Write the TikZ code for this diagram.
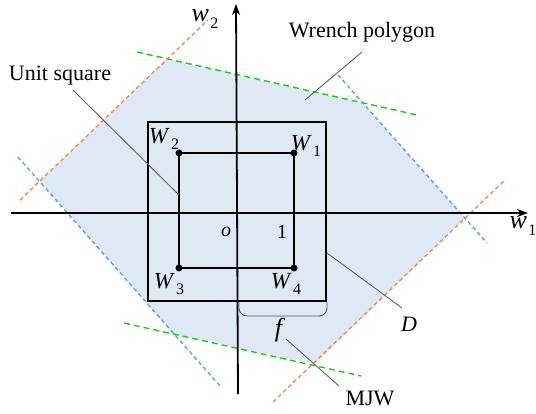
\documentclass[tikz,border=0pt]{standalone}
\usepackage{fontspec}
\setmainfont{Liberation Serif}
\usetikzlibrary{arrows.meta}
\definecolor{polyfill}{RGB}{222,233,245}
\definecolor{gdash}{RGB}{30,200,30}
\definecolor{odash}{RGB}{240,140,80}
\definecolor{bdash}{RGB}{100,160,220}
\definecolor{leadgray}{RGB}{85,85,85}
\newcommand\msub[2]{\textit{#1}\kern1.2pt\raisebox{-0.28em}{\fontsize{16}{16}\selectfont #2}}
\tikzset{
  dline/.style={line width=1.4pt, dash pattern=on 4pt off 3pt},
  gline/.style={dline, draw=gdash, dash pattern=on 6pt off 4pt},
  oline/.style={dline, draw=odash},
  bline/.style={dline, draw=bdash},
  axis/.style={line width=1.8pt, -{Stealth[length=11pt,width=8pt]}},
  sq/.style={line width=1.8pt},
  leader/.style={draw=leadgray, line width=0.8pt},
  txt/.style={font=\fontsize{22}{24}\selectfont, inner sep=0pt},
  mlab/.style={font=\fontsize{20}{22}\selectfont, inner sep=0pt},
  Wlab/.style={font=\fontsize{23}{25}\selectfont, inner sep=0pt},
  wlab/.style={font=\fontsize{26}{28}\selectfont, inner sep=0pt},
  dot/.style={circle, fill=black, inner sep=0pt, minimum size=7pt}
}
\begin{document}
\begin{tikzpicture}[x=1pt,y=-1pt]
\useasboundingbox (0,0) rectangle (536,413);
% polygon
\fill[polyfill] (167,59) -- (362,103) -- (465,218) -- (315,364) -- (173,334) -- (40,181) -- cycle;
% dashed supporting lines
\draw[gline] (137,52) -- (417,115);
\draw[gline] (124,323) -- (361,376);
\draw[oline] (20,200) -- (208,20);
\draw[oline] (273,402) -- (506,179);
\draw[bline] (18,157) -- (220,386);
\draw[bline] (338,75) -- (487,243);
% axes
\coordinate (xs) at (11,213);
\coordinate (xe) at (528,213);
\coordinate (ys) at (238,394);
\coordinate (ye) at (236,4);
\draw[axis] (xs) -- (xe);
\draw[axis] (ys) -- (ye);
% outer square D
\draw[sq] (148,122) rectangle (326,301);
% inner unit square
\node[dot] (W1) at (294,153) {};
\node[dot] (W2) at (179,153) {};
\node[dot] (W3) at (179,268) {};
\node[dot] (W4) at (294,268) {};
\draw[sq] (W1.center) -- (W2.center) -- (W3.center) -- (W4.center) -- cycle;
% bracket f
\draw[leader, rounded corners=8pt] (239,302) -- (239,316) -- (327,316) -- (327,302);
% labels
\node[Wlab] (lW1) at (306,146) {\msub{W}{1}};
\node[Wlab] (lW2) at (164,139) {\msub{W}{2}};
\node[Wlab] (lW3) at (169,284) {\msub{W}{3}};
\node[Wlab] (lW4) at (286,284) {\msub{W}{4}};
\node[mlab] (lo) at (226,232) {\textit{o}};
\node[mlab] (l1) at (282,232) {1};
\node[wlab] (lw1) at (523,226) {\msub{w}{1}};
\node[wlab] (lw2) at (205,19) {\msub{w}{2}};
\node[wlab] (lf) at (280,330) {\textit{f}};
\node[mlab, font=\fontsize{22}{24}\selectfont] (lD) at (409,324) {\textit{D}};
\node[txt] (lunit) at (60,76) {Unit square};
\node[txt] (lwrench) at (362,32) {Wrench polygon};
\node[txt] (lmjw) at (370,398) {MJW};
% leaders
\coordinate (u1) at (73,90);   \coordinate (u2) at (179,195);
\coordinate (r1) at (362,52);  \coordinate (r2) at (305,100);
\coordinate (d1) at (327,253); \coordinate (d2) at (402,308);
\coordinate (m1) at (286,339); \coordinate (m2) at (339,386);
\draw[leader] (u1) -- (u2);
\draw[leader] (r1) -- (r2);
\draw[leader] (d1) -- (d2);
\draw[leader] (m1) -- (m2);
\end{tikzpicture}
\end{document}
